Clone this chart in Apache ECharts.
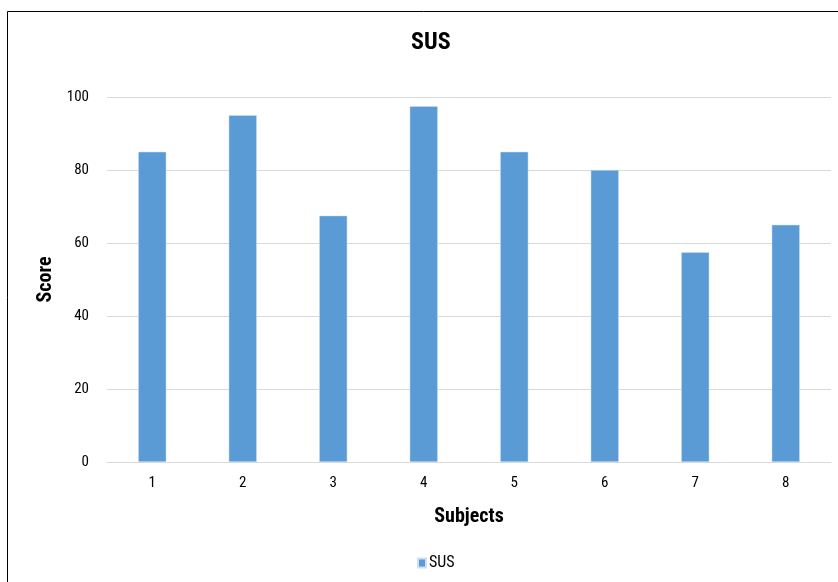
<!DOCTYPE html>
<html>
<head>
<meta charset="utf-8">
<style>
  html, body { margin: 0; padding: 0; background: #fff; }
  #chart { width: 838px; height: 582px; }
</style>
<script src="https://cdn.jsdelivr.net/npm/echarts@6/dist/echarts.min.js"></script>
</head>
<body>
<div id="chart"></div>
<script>
// SUS score per subject
const subjects = ['1', '2', '3', '4', '5', '6', '7', '8'];
const susScores = [85, 95, 67.5, 97.5, 85, 80, 57.5, 65];
const yTicks = { min: 0, max: 100, step: 20 };

const FONT = '"Roboto Condensed", "Liberation Sans Narrow", "Roboto", sans-serif';

const chart = echarts.init(document.getElementById('chart'), null, { renderer: 'canvas' });

chart.setOption({
  backgroundColor: '#ffffff',
  animation: false,
  textStyle: { fontFamily: FONT },
  graphic: [{
    type: 'rect',
    shape: { x: 7.5, y: 11.5, width: 840, height: 600 },
    style: { fill: 'none', stroke: '#000000', lineWidth: 1 },
    silent: true
  }],
  title: {
    text: 'SUS',
    left: 411,
    top: 31,
    padding: 0,
    textStyle: { fontFamily: FONT, fontSize: 24, fontWeight: 'bold', color: '#000' }
  },
  legend: {
    data: ['SUS'],
    bottom: 6,
    left: 412,
    itemWidth: 8,
    itemHeight: 9,
    itemGap: 4,
    icon: 'rect',
    textStyle: { fontFamily: FONT, fontSize: 16, color: '#000', padding: [0, 0, 0, -2] }
  },
  grid: { left: 107, right: 7, top: 97, bottom: 120, containLabel: false },
  xAxis: {
    type: 'category',
    data: subjects,
    name: 'Subjects',
    nameLocation: 'middle',
    nameGap: 45,
    nameTextStyle: { fontFamily: FONT, fontSize: 20, fontWeight: 'bold', color: '#000' },
    axisLine: { lineStyle: { color: '#d9d9d9', width: 1 } },
    axisTick: { show: false },
    axisLabel: { fontFamily: FONT, fontSize: 15, color: '#000', margin: 14 }
  },
  yAxis: {
    type: 'value',
    min: yTicks.min,
    max: yTicks.max,
    interval: yTicks.step,
    name: 'Score',
    nameLocation: 'middle',
    nameGap: 48,
    nameRotate: 90,
    nameTextStyle: { fontFamily: FONT, fontSize: 20, fontWeight: 'bold', color: '#000' },
    axisLine: { show: false },
    axisTick: { show: false },
    axisLabel: { fontFamily: FONT, fontSize: 15, color: '#000', margin: 18 },
    splitLine: { lineStyle: { color: '#d9d9d9', width: 1 } }
  },
  series: [{
    name: 'SUS',
    type: 'bar',
    data: susScores,
    barWidth: '31%',
    itemStyle: { color: '#5b9bd5', borderColor: '#cfe0f2', borderWidth: 0.5 }
  }]
});
</script>
</body>
</html>
